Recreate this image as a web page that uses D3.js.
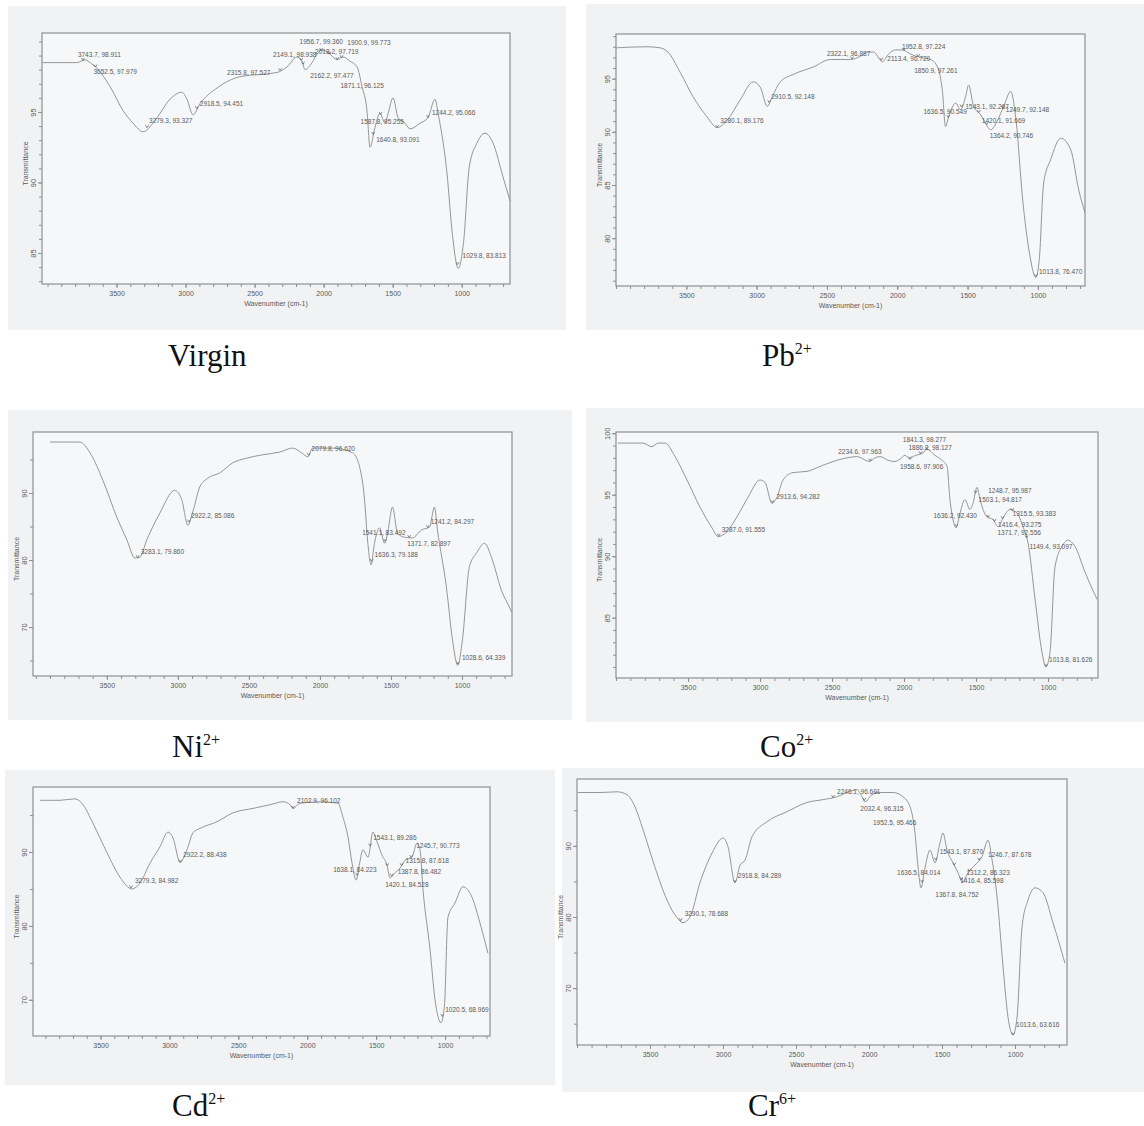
<!DOCTYPE html>
<html>
<head>
<meta charset="utf-8">
<script src="https://cdn.jsdelivr.net/npm/d3@7"></script>
<style>
  body { margin: 0; background: #fff; }
  svg text { font-family: "Liberation Sans", Arial, sans-serif; }
  .cap { font-family: "Liberation Serif", "Times New Roman", serif; }
</style>
</head>
<body>
<svg id="chart" width="1144" height="1126"></svg>
<script>
// x tick labels, shared by all six spectra (cm-1)
var xTickLabels = [3500, 3000, 2500, 2000, 1500, 1000];

// ---- Virgin ----
var virginSpectrum = [[4033,98.5],[3787,98.5],[3729,98.7],[3678,98.4],[3642,98.1],[3547,96.8],[3453,95.1],[3380,94.2],[3308,93.6],[3207,94.6],[3113,95.9],[3026,96.4],[2990,95.9],[2946,94.8],[2895,95.6],[2772,96.7],[2606,97.5],[2338,97.8],[2265,98.2],[2193,98.9],[2157,98.6],[2135,98.0],[2084,98.5],[2048,99.1],[2012,99.4],[1954,99.1],[1903,98.7],[1860,98.9],[1809,98.6],[1758,98.2],[1722,96.8],[1686,95.1],[1664,92.5],[1628,93.9],[1592,94.9],[1555,94.2],[1533,94.9],[1497,96.0],[1461,94.6],[1410,94.2],[1374,93.8],[1302,94.2],[1244,94.6],[1193,95.9],[1171,94.9],[1106,90.6],[1068,86.4],[1025,83.9],[985,85.9],[945,91.1],[889,92.8],[831,93.5],[773,92.8],[701,90.4],[650,88.7]];
var virginPeaks = ["3743.7, 98.911","3652.5, 97.979","3279.3, 93.327","2918.5, 94.451","2315.8, 97.527","2149.1, 98.938","2018.2, 97.719","1956.7, 99.360","1900.9, 99.773","2162.2, 97.477","1871.1, 96.125","1587.8, 95.255","1640.8, 93.091","1244.2, 95.066","1029.8, 83.813"];
var virginYTicks = [85, 90, 95];

// ---- Pb2+ ----
var pbSpectrum = [[3998,97.9],[3779,98.0],[3687,97.9],[3630,97.5],[3544,95.6],[3452,93.3],[3352,91.4],[3281,90.4],[3209,91.1],[3117,93.0],[3024,94.7],[2974,94.2],[2924,92.4],[2889,93.3],[2832,94.7],[2739,95.4],[2597,96.1],[2476,96.8],[2333,96.8],[2262,97.1],[2212,97.5],[2169,97.5],[2105,96.6],[2063,97.3],[2013,97.7],[1963,97.7],[1906,97.3],[1835,97.0],[1763,96.8],[1714,96.1],[1678,93.7],[1657,90.5],[1635,91.4],[1585,92.7],[1550,92.1],[1514,93.3],[1493,94.4],[1457,92.4],[1407,91.6],[1372,90.8],[1336,90.2],[1286,91.1],[1243,92.4],[1193,93.8],[1158,91.4],[1108,83.6],[1060,78.6],[1015,76.3],[990,78.0],[959,85.2],[909,87.4],[837,89.4],[766,88.3],[709,84.5],[665,82.4]];
var pbPeaks = ["3280.1, 89.176","2910.5, 92.148","2322.1, 96.887","2113.4, 96.720","1952.8, 97.224","1850.9, 97.261","1636.5, 90.549","1543.1, 92.267","1249.7, 92.148","1420.1, 91.669","1364.2, 90.746","1013.8, 76.470"];
var pbYTicks = [80, 85, 90, 95];

// ---- Ni2+ ----
var niSpectrum = [[3900,97.6],[3690,97.6],[3619,96.0],[3528,91.9],[3430,86.4],[3359,83.0],[3303,80.3],[3268,80.4],[3219,83.0],[3127,87.0],[3022,90.4],[2973,89.0],[2930,85.2],[2895,87.2],[2846,90.9],[2790,92.2],[2705,93.0],[2614,94.5],[2516,95.2],[2403,95.7],[2284,96.1],[2192,96.7],[2129,96.0],[2085,95.4],[2052,96.7],[1911,96.7],[1770,96.0],[1721,93.9],[1686,89.0],[1665,83.0],[1640,79.3],[1616,82.5],[1581,84.8],[1545,82.5],[1524,84.0],[1489,87.9],[1454,84.0],[1404,83.4],[1348,83.3],[1285,84.5],[1229,84.9],[1194,87.9],[1173,84.5],[1110,76.0],[1067,68.1],[1030,64.3],[997,68.1],[948,79.0],[899,81.0],[842,82.5],[786,80.0],[723,75.5],[667,73.0],[650,72.2]];
var niPeaks = ["3283.1, 79.860","2922.2, 85.086","2079.8, 96.620","1541.1, 83.492","1636.3, 79.188","1371.7, 82.897","1241.2, 84.297","1028.6, 64.339"];
var niYTicks = [70, 80, 90];

// ---- Co2+ ----
var coSpectrum = [[3986,99.2],[3813,99.2],[3750,98.9],[3708,99.2],[3660,99.2],[3590,98.1],[3507,96.2],[3417,94.0],[3333,92.3],[3292,91.6],[3229,92.0],[3160,93.2],[3083,94.8],[3000,96.2],[2965,96.0],[2917,94.3],[2882,94.8],[2840,96.2],[2771,96.8],[2674,96.9],[2583,97.3],[2493,97.7],[2396,98.0],[2326,98.1],[2240,97.7],[2200,98.0],[2167,98.1],[2111,97.8],[2063,97.7],[2028,97.9],[1993,98.2],[1958,97.9],[1938,98.1],[1868,98.4],[1841,98.7],[1785,98.2],[1736,97.8],[1701,97.3],[1681,94.6],[1660,93.0],[1639,92.3],[1611,93.5],[1577,94.6],[1542,93.8],[1521,94.3],[1493,95.6],[1472,94.6],[1424,93.2],[1382,93.0],[1347,92.4],[1313,93.1],[1264,93.8],[1215,93.5],[1174,92.4],[1139,91.1],[1090,86.5],[1042,82.2],[1015,81.0],[986,82.2],[952,89.1],[903,90.8],[861,91.3],[813,90.8],[743,88.7],[660,86.5]];
var coPeaks = ["3287.0, 91.555","2913.6, 94.282","2234.6, 97.963","1841.3, 98.277","1886.2, 98.127","1958.6, 97.906","1636.2, 92.430","1248.7, 95.987","1503.1, 94.817","1315.5, 93.383","1416.4, 93.275","1371.7, 92.556","1149.4, 93.097","1013.8, 81.626"];
var coYTicks = [85, 90, 95, 100];

// ---- Cd2+ ----
var cdSpectrum = [[3939,97.0],[3794,97.0],[3685,97.2],[3627,96.4],[3555,93.9],[3453,89.9],[3359,86.6],[3272,85.0],[3214,85.8],[3141,88.5],[3069,90.7],[3010,92.7],[2974,91.9],[2923,88.6],[2873,90.3],[2829,92.6],[2778,93.2],[2655,94.1],[2539,95.3],[2394,95.9],[2270,96.4],[2176,96.8],[2125,96.4],[2103,95.9],[2053,96.6],[1907,96.8],[1777,96.6],[1741,94.7],[1704,92.0],[1675,88.5],[1645,86.2],[1620,88.5],[1596,90.3],[1559,89.3],[1523,92.7],[1494,91.4],[1458,89.6],[1421,88.2],[1400,86.5],[1363,87.2],[1327,87.8],[1291,88.9],[1240,89.3],[1204,91.2],[1182,90.3],[1160,84.9],[1109,76.8],[1073,70.0],[1030,66.9],[1005,69.1],[979,81.2],[928,83.1],[870,85.3],[805,83.9],[747,80.4],[689,76.3]];
var cdPeaks = ["3279.3, 84.982","2922.2, 88.438","2102.9, 96.102","1638.1, 84.223","1543.1, 89.286","1245.7, 90.773","1315.8, 87.618","1387.8, 86.482","1420.1, 84.528","1020.5, 68.969"];
var cdYTicks = [70, 80, 90];

// ---- Cr6+ ----
var crSpectrum = [[3993,97.5],[3842,97.5],[3726,97.6],[3658,97.2],[3603,95.5],[3548,92.3],[3466,87.0],[3384,82.4],[3315,79.9],[3274,79.2],[3226,80.0],[3158,84.8],[3075,89.0],[3000,91.1],[2966,89.9],[2918,84.8],[2883,87.3],[2849,88.0],[2801,91.3],[2698,93.4],[2562,94.8],[2425,96.1],[2315,96.5],[2219,96.9],[2151,97.5],[2082,97.9],[2048,96.9],[2027,96.2],[1979,97.2],[1924,97.5],[1835,97.5],[1767,96.9],[1719,95.5],[1685,91.8],[1664,87.0],[1644,84.1],[1616,87.0],[1582,89.4],[1548,87.6],[1514,90.4],[1493,91.8],[1466,89.4],[1424,87.6],[1390,86.2],[1360,84.9],[1322,86.2],[1274,87.3],[1226,88.5],[1185,90.8],[1157,88.0],[1123,82.8],[1082,73.0],[1048,65.9],[1014,63.4],[986,65.9],[952,78.6],[911,82.4],[863,84.1],[808,83.4],[740,79.2],[658,73.5]];
var crPeaks = ["3290.1, 78.688","2918.8, 84.289","2246.1, 96.601","2032.4, 96.315","1952.5, 95.466","1636.5, 84.014","1543.1, 87.870","1246.7, 87.678","1312.2, 86.323","1416.4, 85.598","1367.8, 84.752","1013.6, 63.616"];
var crYTicks = [70, 80, 90];

// layout: plot frames, axis ranges and label nudges (pixels)
var panels = [
  { spectrum: virginSpectrum, peaks: virginPeaks, yTicks: virginYTicks, minor: 1,
    box: [42, 33, 510, 284], xDom: [4040, 650], yDom: [82.8, 100.6], bg: [8, 6, 558, 324],
    name: "Virgin", sup: "", cap: [168, 366],
    nudge: [[-5,-4],[-2,7],[2,-5],[3,-3],[-53,4],[-30,-7],[-6,3],[-30,-10],[10,-15],[9,17],[-1,30],[-20,10],[3,8],[4,-3],[5,-7]] },
  { spectrum: pbSpectrum, peaks: pbPeaks, yTicks: pbYTicks, minor: 1,
    box: [616, 34, 1085, 286], xDom: [4000, 665], yDom: [75.5, 99.2], bg: [586, 4, 558, 326],
    name: "Pb", sup: "2+", cap: [762, 366],
    nudge: [[3,-4],[2,-4],[-25,-3],[6,1],[-2,-2],[-4,16],[-25,-4],[4,2],[3,4],[3,10],[3,13],[3,-3]] },
  { spectrum: niSpectrum, peaks: niPeaks, yTicks: niYTicks, minor: 5,
    box: [33, 432, 512, 676], xDom: [4020, 648], yDom: [62.7, 99.1], bg: [8, 410, 564, 310],
    name: "Ni", sup: "2+", cap: [172, 757],
    nudge: [[3,-4],[2,-4],[3,-4],[-23,-6],[3,-4],[-2,8],[3,-4],[4,-4]] },
  { spectrum: coSpectrum, peaks: coPeaks, yTicks: coYTicks, minor: 1,
    box: [616, 432, 1098, 678], xDom: [4000, 653], yDom: [80.1, 100.1], bg: [586, 408, 558, 314],
    name: "Co", sup: "2+", cap: [760, 757],
    nudge: [[3,-4],[4,-4],[-32,-7],[-24,-7],[-12,-4],[-10,10],[-23,-8],[-24,-18],[3,9],[10,-3],[10,10],[3,13],[3,11],[3,-4]] },
  { spectrum: cdSpectrum, peaks: cdPeaks, yTicks: cdYTicks, minor: 5,
    box: [33, 787, 490, 1036], xDom: [3990, 674], yDom: [65.1, 98.8], bg: [5, 770, 550, 315],
    name: "Cd", sup: "2+", cap: [172, 1116],
    nudge: [[4,-5],[3,-5],[4,-5],[-24,-3],[3,-6],[5,-10],[4,-3],[6,-2],[-2,21],[3,-5]] },
  { spectrum: crSpectrum, peaks: crPeaks, yTicks: crYTicks, minor: 5,
    box: [577, 779, 1067, 1045], xDom: [4000, 644], yDom: [62.0, 99.4], bg: [562, 768, 582, 324],
    name: "Cr", sup: "6+", cap: [748, 1116],
    nudge: [[4,-5],[3,-4],[4,-4],[-4,11],[-3,31],[-25,-7],[4,-6],[9,-3],[-3,4],[6,18],[-26,17],[3,-8]] }
];

var svg = d3.select("#chart");
var ink = "#5a5a5a", lineCol = "#8a8a8a", frameCol = "#8f8f8f";

panels.forEach(function(p) {
  var g = svg.append("g");
  var x0 = p.box[0], y0 = p.box[1], x1 = p.box[2], y1 = p.box[3];

  g.append("rect")
      .attr("x", p.bg[0]).attr("y", p.bg[1])
      .attr("width", p.bg[2]).attr("height", p.bg[3])
      .attr("fill", "#f0f2f4");

  var x = d3.scaleLinear().domain(p.xDom).range([x0, x1]);
  var y = d3.scaleLinear().domain(p.yDom).range([y1, y0]);

  g.append("rect")
      .attr("x", x0).attr("y", y0)
      .attr("width", x1 - x0).attr("height", y1 - y0)
      .attr("fill", "#f6f7f8")
      .attr("stroke", frameCol).attr("stroke-width", 1.2);

  // x axis: minor ticks every 100, labels every 500
  var xMinor = d3.range(700, 4001, 100).filter(function(d) { return d <= p.xDom[0] && d >= p.xDom[1]; });
  g.append("g")
      .attr("transform", "translate(0," + y1 + ")")
      .call(d3.axisBottom(x).tickValues(xMinor).tickSize(3).tickFormat(""))
      .call(function(s) { s.select(".domain").remove(); });
  g.append("g")
      .attr("transform", "translate(0," + y1 + ")")
      .call(d3.axisBottom(x).tickValues(xTickLabels).tickSize(4).tickFormat(d3.format("d")))
      .call(function(s) {
        s.select(".domain").remove();
        s.selectAll("text").attr("y", 7).style("font-size", "7px");
      });

  // y axis
  var yMinor = d3.range(Math.ceil(p.yDom[0] / p.minor) * p.minor, p.yDom[1], p.minor);
  g.append("g")
      .attr("transform", "translate(" + x0 + ",0)")
      .call(d3.axisLeft(y).tickValues(yMinor).tickSize(3).tickFormat(""))
      .call(function(s) { s.select(".domain").remove(); });
  g.append("g")
      .attr("transform", "translate(" + x0 + ",0)")
      .call(d3.axisLeft(y).tickValues(p.yTicks).tickSize(4).tickFormat(d3.format("d")))
      .call(function(s) {
        s.select(".domain").remove();
        s.selectAll("text")
            .attr("transform", "rotate(-90)")
            .attr("x", 0).attr("y", -6).attr("dy", 0)
            .style("text-anchor", "middle")
            .style("font-size", "7.5px");
      });
  g.selectAll(".tick line").attr("stroke", frameCol);
  g.selectAll(".tick text").attr("fill", ink);

  g.append("text")
      .attr("x", (x0 + x1) / 2).attr("y", y1 + 22)
      .attr("text-anchor", "middle")
      .style("font-size", "7px").attr("fill", ink)
      .text("Wavenumber (cm-1)");
  g.append("text")
      .attr("transform", "translate(" + (x0 - 14) + "," + ((y0 + y1) / 2 + 5) + ") rotate(-90)")
      .attr("text-anchor", "middle")
      .style("font-size", "7px").attr("fill", ink)
      .text("Transmittance");

  // spectrum trace
  var line = d3.line()
      .x(function(d) { return x(d[0]); })
      .y(function(d) { return y(d[1]); })
      .curve(d3.curveMonotoneX);
  g.append("path")
      .datum(p.spectrum)
      .attr("d", line)
      .attr("fill", "none")
      .attr("stroke", lineCol)
      .attr("stroke-width", 0.9);

  // peak labels, placed on the trace at the labelled wavenumber
  var asc = p.spectrum.slice().reverse();
  var bis = d3.bisector(function(d) { return d[0]; }).left;
  function traceAt(wn) {
    var i = Math.max(1, Math.min(asc.length - 1, bis(asc, wn)));
    var a = asc[i - 1], b = asc[i];
    var t = (wn - a[0]) / (b[0] - a[0]);
    return a[1] + t * (b[1] - a[1]);
  }
  p.peaks.forEach(function(lab, i) {
    var wn = +lab.split(",")[0];
    var mx = x(wn), my = y(traceAt(wn));
    var off = p.nudge[i];
    g.append("path")
        .attr("d", "M" + (mx - 1.5) + "," + (my - 2.5) + "L" + mx + "," + my + "L" + (mx + 1.5) + "," + (my - 2.5))
        .attr("fill", "none").attr("stroke", ink).attr("stroke-width", 0.7);
    g.append("text")
        .attr("x", mx + off[0]).attr("y", my + off[1])
        .style("font-size", "6.5px").attr("fill", ink)
        .text(lab);
  });

  // caption below each spectrum
  var cap = g.append("text").attr("class", "cap")
      .attr("x", p.cap[0]).attr("y", p.cap[1])
      .style("font-size", "31px").attr("fill", "#111")
      .text(p.name);
  if (p.sup) {
    cap.append("tspan")
        .attr("dy", -12)
        .style("font-size", "16px")
        .text(p.sup);
  }
});
</script>
</body>
</html>
